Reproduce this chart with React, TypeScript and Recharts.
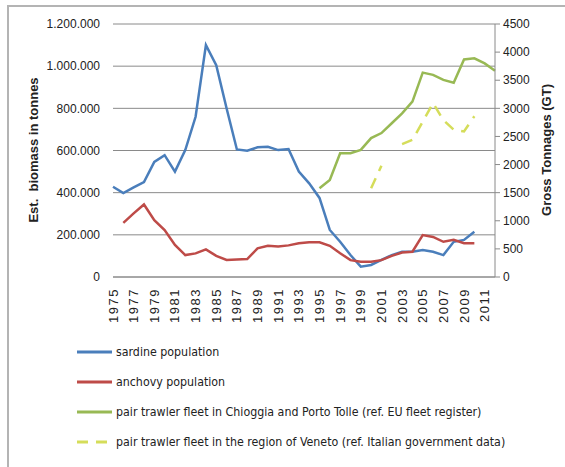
import React from 'react';
import { LineChart, Line, XAxis, YAxis, CartesianGrid } from 'recharts';

const years = [
  '1975', '1976', '1977', '1978', '1979', '1980', '1981', '1982', '1983', '1984',
  '1985', '1986', '1987', '1988', '1989', '1990', '1991', '1992', '1993', '1994',
  '1995', '1996', '1997', '1998', '1999', '2000', '2001', '2002', '2003', '2004',
  '2005', '2006', '2007', '2008', '2009', '2010', '2011', '2012',
];

// tonnes
const sardine = [
  428000, 398000, 425000, 450000, 546000, 578000, 500000, 602000, 760000, 1100000,
  1005000, 800000, 605000, 599000, 615000, 618000, 602000, 607000, 500000, 444000,
  375000, 223000, 167000, 104000, 49000, 57000, 81000, 104000, 120000, 120000,
  128000, 120000, 104000, 167000, 176000, 215000, null, null,
];

const anchovy = [
  null, 257000, 302000, 344000, 270000, 223000, 152000, 104000, 112000, 131000,
  100000, 81000, 83000, 85000, 136000, 148000, 145000, 150000, 160000, 165000,
  165000, 148000, 113000, 80000, 72000, 72000, 80000, 100000, 116000, 120000,
  199000, 190000, 167000, 176000, 160000, 160000, null, null,
];

// gross tonnage
const chioggiaFleet = [
  null, null, null, null, null, null, null, null, null, null,
  null, null, null, null, null, null, null, null, null, null,
  1580, 1725, 2200, 2200, 2260, 2470, 2560, 2735, 2910, 3120,
  3635, 3595, 3505, 3455, 3870, 3890, 3800, 3670,
];

const venetoFleet = [
  null, null, null, null, null, null, null, null, null, null,
  null, null, null, null, null, null, null, null, null, null,
  null, null, null, null, null, 1580, 1980, null, 2365, 2440,
  2760, 3095, 2790, 2620, 2590, 2860, null, null,
];

const biomassTicks = [0, 200000, 400000, 600000, 800000, 1000000, 1200000];
const tonnageTicks = [0, 500, 1000, 1500, 2000, 2500, 3000, 3500, 4000, 4500];

const data = years.map((year, i) => ({
  year,
  sardine: sardine[i],
  anchovy: anchovy[i],
  chioggia: chioggiaFleet[i],
  veneto: venetoFleet[i],
}));

const legendItems = [
  { label: 'sardine population', color: '#4a7ebb', dash: undefined },
  { label: 'anchovy population', color: '#be4b48', dash: undefined },
  { label: 'pair trawler fleet in Chioggia and Porto Tolle (ref. EU fleet register)', color: '#98b954', dash: undefined },
  { label: 'pair trawler fleet in the region of Veneto (ref. Italian government data)', color: '#d5dd5a', dash: '11 8' },
];

const font = '"Liberation Sans", Arial, sans-serif';
const gridColor = '#8a8a8a';

const dots = (v: number) => String(v).replace(/\B(?=(\d{3})+(?!\d))/g, '.');

function YearTick({ x, y, payload }: any) {
  return (
    <text
      x={x}
      y={y}
      transform={`rotate(-90 ${x} ${y})`}
      textAnchor="end"
      dy="0.35em"
      fontSize={13}
      letterSpacing={1.5}
      fill="#222"
      fontFamily={font}
    >
      {payload.value}
    </text>
  );
}

export default function App() {
  return (
    <div style={{ position: 'absolute', left: 0, top: 0, width: 565, height: 467, background: '#fff', overflow: 'hidden' }}>
      <div
        style={{
          position: 'absolute', left: 7, top: 5, width: 600, height: 500,
          borderLeft: '2px solid #b4b4b4', borderTop: '2px solid #b4b4b4',
        }}
      />

      <div style={{ position: 'absolute', left: 0, top: 0 }}>
        <LineChart width={565} height={340} data={data} margin={{ top: 24, right: 0, bottom: 13, left: 43 }}>
          <CartesianGrid yAxisId="biomass" vertical={false} stroke={gridColor} />
          <XAxis
            dataKey="year"
            interval={1}
            tickLine={false}
            tickSize={0}
            tickMargin={11}
            height={50}
            axisLine={{ stroke: gridColor }}
            tick={<YearTick />}
          />
          <YAxis
            yAxisId="biomass"
            width={70}
            domain={[0, 1200000]}
            ticks={biomassTicks}
            tickFormatter={dots}
            axisLine={false}
            tickLine={false}
            tickSize={0}
            tickMargin={13}
            tick={{ fontSize: 12, fill: '#222', fontFamily: font }}
          />
          <YAxis
            yAxisId="gt"
            orientation="right"
            width={70}
            domain={[0, 4500]}
            ticks={tonnageTicks}
            axisLine={{ stroke: gridColor }}
            tickLine={{ stroke: gridColor }}
            tickSize={5}
            tickMargin={3}
            tick={{ fontSize: 12, fill: '#222', fontFamily: font }}
          />
          <Line yAxisId="biomass" type="linear" dataKey="sardine" stroke="#4a7ebb" strokeWidth={2.5} dot={false} isAnimationActive={false} />
          <Line yAxisId="biomass" type="linear" dataKey="anchovy" stroke="#be4b48" strokeWidth={2.5} dot={false} isAnimationActive={false} />
          <Line yAxisId="gt" type="linear" dataKey="chioggia" stroke="#98b954" strokeWidth={2.5} dot={false} isAnimationActive={false} />
          <Line yAxisId="gt" type="linear" dataKey="veneto" stroke="#d5dd5a" strokeWidth={2.5} strokeDasharray="11 8" dot={false} isAnimationActive={false} />
        </LineChart>
      </div>

      <div
        style={{
          position: 'absolute', left: 33, top: 150, transform: 'translate(-50%, -50%) rotate(-90deg)',
          whiteSpace: 'pre', fontFamily: font, fontWeight: 'bold', fontSize: 13, color: '#222',
        }}
      >
        {'Est.  biomass in tonnes'}
      </div>
      <div
        style={{
          position: 'absolute', left: 546, top: 150, transform: 'translate(-50%, -50%) rotate(-90deg)',
          whiteSpace: 'pre', fontFamily: font, fontWeight: 'bold', fontSize: 13, color: '#222',
        }}
      >
        Gross Tonnages (GT)
      </div>

      {/* legend */}
      {legendItems.map((item, i) => (
        <div key={item.label} style={{ position: 'absolute', left: 77, top: 352 + i * 30 - 9, height: 18, display: 'flex', alignItems: 'center' }}>
          <svg width={36} height={18}>
            <line x1={0} y1={9} x2={35} y2={9} stroke={item.color} strokeWidth={3} strokeDasharray={item.dash} />
          </svg>
          <span style={{ marginLeft: 3, fontFamily: '"Liberation Sans Narrow", "DejaVu Sans Condensed", sans-serif', fontSize: 12.3, color: '#222', whiteSpace: 'nowrap' }}>
            {item.label}
          </span>
        </div>
      ))}
    </div>
  );
}
